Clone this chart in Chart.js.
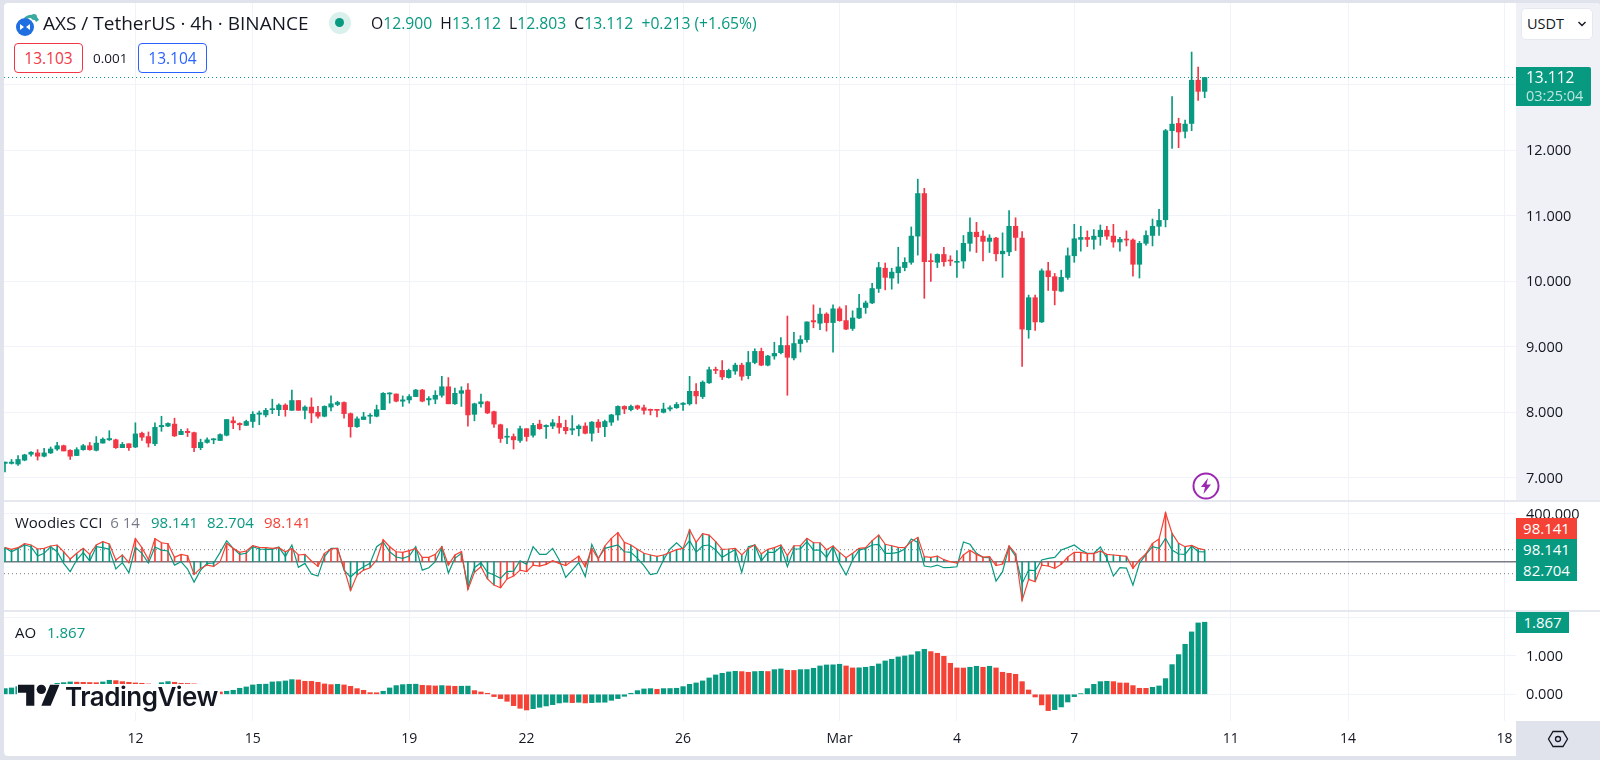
<!DOCTYPE html>
<html>
<head>
<meta charset="utf-8">
<title>AXS / TetherUS</title>
<script src="https://cdn.jsdelivr.net/npm/chart.js@4/dist/chart.umd.js"></script>
<style>
    html, body { margin: 0; padding: 0; background: #e0e3eb; width: 1600px; height: 760px; overflow: hidden; }
    body { font-family: "Open Sans", sans-serif; color: #131722; position: relative; }
    #panel { position: absolute; left: 4px; top: 3px; width: 1596px; height: 753px; background: #fff; border-radius: 4px 4px 0 4px; }
    #ejePrecio { position: absolute; left: 1516px; top: 3px; width: 84px; height: 498px; background: #f0f1f6; border-radius: 0 4px 0 0; }
    #esquina { position: absolute; left: 1516px; top: 721px; width: 84px; height: 35px; background: #e0e3eb; }
    .sep { position: absolute; left: 4px; width: 1596px; height: 2px; background: #e6e8f0; }
    canvas { position: absolute; left: 4px; }
    .txt { position: absolute; white-space: nowrap; line-height: 20px; }
    .tag { position: absolute; left: 1516px; color: #fff; font-size: 15px; line-height: 21px; height: 21px; text-align: center; }
    .up { color: #089981; }
    .dn { color: #f44336; }
    .gr { color: #787b86; }
    .box { position: absolute; top: 43px; width: 67px; height: 28px; line-height: 28px; text-align: center; font-size: 15.5px; border: 1px solid; border-radius: 4px; background: #fff; }
</style>
</head>
<body>
<div id="panel"></div>
<div id="ejePrecio"></div>
<div id="esquina"></div>
<canvas id="graficoPrecio" width="1596" height="498" style="top:3px"></canvas>
<canvas id="graficoCci" width="1596" height="109" style="top:502px"></canvas>
<canvas id="graficoAo" width="1596" height="145" style="top:612px"></canvas>
<div class="sep" style="top:500px"></div>
<div class="sep" style="top:610px"></div>

<svg style="position:absolute;left:14px;top:11px" width="26" height="26" viewBox="0 0 26 26">
    <path d="M10 7 A9 9 0 0 1 25 9 L22 11 A6 6 0 0 0 13 8 Z" fill="#3aa9a0"/>
    <circle cx="20" cy="6" r="3" fill="#3aa9a0"/>
    <circle cx="11" cy="16" r="9" fill="#1f6fe0"/>
    <path d="M6 13 L10 16 L6 19 Z M16 13 L12 16 L16 19 Z" fill="#fff"/>
</svg>
<div class="txt" style="left:43px;top:13px;font-size:19px">AXS / TetherUS · 4h · BINANCE</div>
<svg style="position:absolute;left:328px;top:11px" width="24" height="24">
    <circle cx="12" cy="12" r="11" fill="#d9f0ec"/>
    <circle cx="11.5" cy="11.5" r="4.5" fill="#089981"/>
</svg>
<div class="txt" style="left:371px;top:13px;font-size:15.7px">O<span class="up">12.900</span>&nbsp; H<span class="up">13.112</span>&nbsp; L<span class="up">12.803</span>&nbsp; C<span class="up">13.112</span>&nbsp; <span class="up">+0.213 (+1.65%)</span></div>
<div class="box" style="left:14px;color:#f23645">13.103</div>
<div class="txt" style="left:93px;top:48px;font-size:13.5px">0.001</div>
<div class="box" style="left:138px;color:#2962ff">13.104</div>
<div class="txt" style="left:1521px;top:8px;width:70px;height:30px;line-height:30px;background:#fff;border:1px solid #e6e8f0;border-radius:5px;font-size:14.5px;text-indent:5px;">USDT<svg style="position:absolute;left:55px;top:11px" width="10" height="8" fill="none" stroke="#131722" stroke-width="1.4"><path d="M1.5 2 L5 5.5 L8.5 2"/></svg></div>

<div class="tag" style="top:67px;width:65px;padding-left:10px;text-align:left;height:39px;background:#089981;border-radius:0 2px 2px 0">
    <div style="font-size:15.5px;line-height:20px;font-weight:500">13.112</div>
    <div style="font-size:14.5px;line-height:17px;color:#bfe6df">03:25:04</div>
</div>

<svg style="position:absolute;left:1192px;top:472px" width="28" height="28">
    <circle cx="14" cy="14" r="12.5" fill="#fff" stroke="#9c27b0" stroke-width="2"/>
    <path d="M16 6 L9 15 H13 L11.5 22 L19 12.5 H14.5 Z" fill="#9c27b0"/>
</svg>

<div class="txt" style="left:15px;top:512px;font-size:15px">Woodies CCI <span class="gr">&nbsp;6 14</span></div>
<div class="txt up" style="left:151px;top:512px;font-size:15px">98.141</div>
<div class="txt up" style="left:207px;top:512px;font-size:15px">82.704</div>
<div class="txt dn" style="left:264px;top:512px;font-size:15px">98.141</div>
<div class="tag" style="top:518px;width:61px;background:#f44336">98.141</div>
<div class="tag" style="top:539px;width:61px;background:#089981">98.141</div>
<div class="tag" style="top:560px;width:61px;background:#089981">82.704</div>

<div class="txt" style="left:15px;top:622px;font-size:15px">AO</div>
<div class="txt up" style="left:47px;top:622px;font-size:15px">1.867</div>
<div class="tag" style="top:612px;width:53px;background:#089981">1.867</div>

<div style="position:absolute;left:17px;top:684px;width:203px;height:28px;background:#fff"></div>
<svg style="position:absolute;left:18px;top:680px;overflow:visible" width="42" height="28" viewBox="0 0 36 24">
    <path d="M14 22H7V11H0V4h14v18zM28 22h-8l7.5-18h8L28 22z" fill="#131722"/>
    <circle cx="20" cy="8" r="4" fill="#131722"/>
</svg>
<div class="txt" style="left:65px;top:682px;font-family:Inter,sans-serif;font-weight:600;font-size:26px;line-height:30px;letter-spacing:-0.5px">TradingView</div>

<svg style="position:absolute;left:1546px;top:727px" width="24" height="24" viewBox="0 0 24 24" fill="none" stroke="#131722" stroke-width="1.3">
    <path d="M7 4.5 H17 L21.5 12 L17 19.5 H7 L2.5 12 Z"/>
    <circle cx="12" cy="12" r="2.5"/>
</svg>

<script>
const opens = [
    7.22,7.22,7.21,7.27,7.36,7.38,7.33,7.38,7.44,7.49,
    7.42,7.34,7.43,7.49,7.42,7.53,7.58,7.58,7.46,7.52,
    7.47,7.68,7.63,7.52,7.78,7.79,7.82,7.66,7.71,7.69,
    7.46,7.54,7.58,7.57,7.65,7.87,7.83,7.80,7.86,7.97,
    7.96,8.04,8.04,8.11,8.03,8.18,8.03,8.08,8.00,7.94,
    8.08,8.12,8.15,7.98,7.78,7.89,7.94,7.94,8.04,8.28,
    8.28,8.17,8.19,8.24,8.34,8.19,8.20,8.26,8.39,8.13,
    8.29,8.34,7.97,8.13,8.16,8.01,7.81,7.62,7.63,7.57,
    7.75,7.65,7.82,7.78,7.79,7.83,7.77,7.73,7.75,7.79,
    7.68,7.85,7.78,7.85,7.96,8.09,8.04,8.10,8.07,8.04,
    8.04,8.00,8.05,8.07,8.12,8.13,8.32,8.24,8.45,8.65,
    8.64,8.53,8.63,8.72,8.56,8.76,8.93,8.72,8.86,8.91,
    9.02,8.83,9.05,9.11,9.40,9.36,9.50,9.37,9.58,9.40,
    9.28,9.44,9.60,9.67,9.89,10.20,10.05,10.13,10.21,10.29,
    10.69,11.34,10.31,10.29,10.41,10.32,10.29,10.31,10.58,10.75,
    10.69,10.61,10.66,10.42,10.45,10.84,10.66,9.26,9.75,9.38,
    10.16,10.07,9.85,10.06,10.39,10.64,10.67,10.64,10.68,10.78,
    10.69,10.60,10.64,10.63,10.26,10.58,10.70,10.84,10.94,12.30,
    12.41,12.29,12.41,13.07,12.90
];
const highs = [
    7.24,7.28,7.34,7.36,7.40,7.43,7.45,7.47,7.54,7.50,
    7.43,7.46,7.51,7.54,7.63,7.61,7.72,7.59,7.54,7.52,
    7.84,7.70,7.70,7.84,7.94,7.84,7.91,7.74,7.75,7.70,
    7.59,7.61,7.60,7.67,7.89,7.93,7.84,7.88,8.01,8.02,
    8.06,8.20,8.13,8.13,8.34,8.18,8.10,8.22,8.09,8.10,
    8.25,8.17,8.16,7.99,7.93,8.00,7.98,8.11,8.30,8.30,
    8.28,8.25,8.27,8.35,8.35,8.24,8.33,8.55,8.53,8.37,
    8.39,8.44,8.14,8.28,8.17,8.02,7.82,7.75,7.67,7.79,
    7.75,7.83,7.88,7.81,7.89,7.94,7.88,7.95,7.81,7.84,
    7.86,7.89,7.88,7.97,8.10,8.10,8.11,8.11,8.11,8.05,
    8.04,8.14,8.10,8.15,8.15,8.55,8.44,8.48,8.69,8.69,
    8.79,8.66,8.75,8.75,8.93,8.97,8.98,8.87,9.07,9.14,
    9.47,9.22,9.17,9.38,9.64,9.59,9.52,9.64,9.61,9.63,
    9.55,9.80,9.70,9.97,10.29,10.28,10.20,10.52,10.36,10.83,
    11.56,11.42,10.42,10.42,10.52,10.39,10.47,10.70,10.97,10.90,
    10.77,10.71,10.67,10.74,11.08,10.97,10.76,9.79,9.79,10.19,
    10.29,10.12,10.17,10.51,10.87,10.84,10.77,10.79,10.86,10.84,
    10.87,10.67,10.77,10.65,10.61,10.77,10.95,11.10,12.32,12.82,
    12.49,12.46,13.50,13.27,13.112
];
const lows = [
    7.09,7.21,7.19,7.26,7.33,7.27,7.32,7.37,7.42,7.41,
    7.28,7.34,7.42,7.42,7.41,7.53,7.57,7.45,7.46,7.42,
    7.46,7.57,7.47,7.49,7.71,7.78,7.63,7.66,7.63,7.40,
    7.43,7.53,7.52,7.57,7.64,7.75,7.73,7.80,7.77,7.81,
    7.93,7.98,7.95,7.94,8.03,8.03,7.90,7.84,7.91,7.93,
    8.02,8.10,7.91,7.62,7.77,7.89,7.83,7.93,8.04,8.14,
    8.16,8.09,8.14,8.24,8.16,8.11,8.13,8.23,8.13,8.12,
    8.09,7.79,7.87,8.08,7.98,7.77,7.54,7.52,7.44,7.54,
    7.56,7.62,7.74,7.60,7.75,7.68,7.67,7.66,7.64,7.67,
    7.56,7.69,7.63,7.80,7.88,7.98,8.02,8.04,7.97,7.96,
    7.93,7.99,8.02,8.06,8.03,8.11,8.13,8.21,8.44,8.59,
    8.50,8.52,8.58,8.49,8.51,8.74,8.71,8.71,8.81,8.89,
    8.26,8.80,8.92,9.07,9.29,9.26,9.24,8.92,9.39,9.26,
    9.25,9.43,9.51,9.66,9.83,9.87,9.88,9.97,10.16,10.26,
    10.40,9.74,10.00,10.21,10.23,10.24,10.06,10.20,10.46,10.44,
    10.31,10.44,10.31,10.06,10.39,10.47,8.70,9.13,9.25,9.37,
    9.86,9.64,9.84,10.03,10.29,10.46,10.53,10.49,10.55,10.64,
    10.52,10.46,10.54,10.08,10.05,10.55,10.54,10.70,10.83,12.03,
    12.04,12.19,12.30,12.76,12.803
];
const closes = [
    7.24,7.24,7.28,7.35,7.39,7.33,7.38,7.44,7.49,7.41,
    7.33,7.43,7.49,7.43,7.53,7.59,7.60,7.46,7.51,7.46,
    7.67,7.62,7.53,7.77,7.80,7.83,7.64,7.71,7.69,7.46,
    7.54,7.58,7.59,7.66,7.89,7.84,7.81,7.86,7.97,7.99,
    8.03,8.05,8.11,8.04,8.18,8.03,8.08,7.99,7.94,8.09,
    8.13,8.15,7.98,7.78,7.90,7.93,7.95,8.04,8.29,8.29,
    8.17,8.19,8.24,8.34,8.17,8.21,8.26,8.39,8.13,8.29,
    8.33,7.96,8.13,8.16,7.99,7.82,7.60,7.63,7.58,7.75,
    7.63,7.80,7.75,7.80,7.84,7.77,7.72,7.75,7.79,7.68,
    7.85,7.77,7.86,7.96,8.09,8.05,8.09,8.06,8.03,8.03,
    8.03,8.05,8.07,8.12,8.14,8.32,8.25,8.46,8.65,8.64,
    8.54,8.64,8.72,8.55,8.76,8.93,8.72,8.86,8.90,9.02,
    8.84,9.05,9.11,9.38,9.38,9.50,9.37,9.58,9.40,9.27,
    9.44,9.59,9.67,9.89,10.21,10.06,10.14,10.22,10.29,10.69,
    11.34,10.30,10.30,10.41,10.30,10.31,10.30,10.58,10.75,10.68,
    10.61,10.66,10.42,10.46,10.84,10.67,9.27,9.75,9.38,10.16,
    10.07,9.86,10.06,10.39,10.65,10.67,10.64,10.69,10.78,10.69,
    10.60,10.64,10.63,10.26,10.58,10.70,10.84,10.93,12.30,12.40,
    12.28,12.40,13.07,12.90,13.112
];

const cciValues = [
    117,103,117,150,139,106,111,131,139,83,
    22,70,111,61,139,167,147,14,56,-8,
    192,117,19,192,158,150,36,61,50,-106,
    -56,-28,-39,0,153,111,78,89,133,120,
    117,111,117,83,111,56,61,6,-39,70,
    106,111,-56,-239,-111,-70,-50,14,183,125,
    83,78,92,111,36,36,61,125,-28,56,
    83,-231,-89,-42,-144,-195,-217,-144,-120,-70,
    -83,-28,-36,-22,8,-14,-33,8,47,-42,
    111,22,131,195,242,161,139,103,70,56,
    44,56,78,100,111,267,161,234,222,167,
    103,106,111,56,111,139,64,103,117,139,
    50,133,133,195,158,158,100,131,78,33,
    70,111,117,175,222,145,133,120,117,167,
    203,42,36,47,17,0,-11,56,95,61,
    39,42,-33,-19,131,67,-323,-147,-167,-28,
    -36,-56,-22,39,78,78,67,67,89,61,
    56,50,44,-56,14,67,153,189,408,236,
    153,125,136,111,98.141
];
const turboValues = [
    117,83,111,139,125,47,70,125,83,-14,
    -83,14,78,6,125,117,103,-61,-8,-92,
    120,70,-11,122,97,89,-28,0,-61,-170,
    -70,-14,-11,78,175,111,61,70,125,106,
    103,103,122,42,139,-47,-14,-103,-120,42,
    111,111,-70,-128,-78,-42,-14,125,164,83,
    39,28,47,125,-70,-50,0,120,-95,28,
    70,-208,-50,-8,-89,-111,-139,-83,-78,8,
    -22,125,61,61,111,14,-131,-70,-8,-125,
    145,28,111,125,139,83,78,28,-33,-108,
    -97,14,106,158,106,175,78,133,139,97,
    36,70,100,-89,125,139,6,78,78,125,
    -42,106,106,167,97,97,36,125,-14,-111,
    14,97,111,139,145,70,70,78,106,189,
    161,-36,-44,-28,-50,-47,-42,164,145,70,
    36,33,-161,-83,125,47,-181,-70,-75,14,
    28,36,97,117,139,97,70,70,122,28,
    -120,-50,-53,-195,-14,61,125,111,195,97,
    64,61,131,83,82.704
];
// tramos del histograma CCI que van en rojo (primer y ultimo indice)
const cciRedRuns = [[20,28],[34,37],[44,45],[47,52],[58,62],[64,66],[68,70],[76,95],[147,155],[159,167],[173,178]];

const aoValues = [
    .147,.164,.199,.216,.233,.236,.25,.259,.285,.302,
    .32,.315,.31,.305,.30,.32,.363,.354,.328,.311,
    .294,.285,.268,.25,.302,.328,.311,.285,.28,.27,
    .216,.13,.086,.06,.078,.104,.156,.19,.242,.259,
    .262,.32,.328,.346,.38,.372,.337,.335,.311,.268,
    .25,.259,.242,.207,.147,.104,.043,.040,.078,.164,
    .225,.25,.259,.262,.233,.225,.216,.225,.216,.207,
    .209,.212,.095,.06,.026,-.06,-.112,-.181,-.294,-.363,
    -.406,-.372,-.337,-.302,-.268,-.225,-.207,-.216,-.207,-.225,
    -.216,-.207,-.205,-.156,-.112,-.052,.026,.095,.138,.147,
    .13,.147,.149,.156,.199,.259,.294,.346,.423,.501,
    .544,.579,.596,.588,.57,.588,.596,.590,.639,.657,
    .622,.618,.639,.641,.674,.734,.76,.763,.778,.734,
    .683,.686,.70,.726,.786,.864,.907,.968,.994,1.02,
    1.106,1.166,1.106,1.063,.985,.804,.683,.680,.70,.726,
    .70,.726,.683,.57,.544,.518,.328,.112,-.069,-.276,
    -.423,-.397,-.328,-.199,-.06,.017,.147,.259,.328,.337,
    .328,.294,.292,.225,.156,.154,.181,.216,.406,.769,
    1.028,1.296,1.616,1.849,1.867
];

const priceTicks = [7, 8, 9, 10, 11, 12, 13];
const cciTicks = [400];
const aoTicks = [0, 1, 2];
const timeTickBars = [20, 38, 62, 80, 104, 128, 146, 164, 188, 206, 230];
const timeTickLabels = ['12', '15', '19', '22', '26', 'Mar', '4', '7', '11', '14', '18'];
const lastPrice = 13.112;

const VERDE = '#089981';
const ROJO = '#f23645';
const ROJO_IND = '#f44336';
const REJILLA = '#f0f3fa';
const GRIS = '#787b86';
const FUENTE = '"Open Sans", sans-serif';

// rango de barras visible, el mismo en los tres paneles
const xMin = -0.153;
const xMax = 231.75;
const indices = opens.map((_, i) => i);
const linea = (y) => [{ x: xMin, y }, { x: xMax, y }];

const opcionesBase = (yMin, yMax, yTicks, anchoX) => ({
    responsive: false,
    animation: false,
    events: [],
    layout: { padding: 0, autoPadding: false },
    plugins: { legend: { display: false }, tooltip: { enabled: false } },
    scales: {
        x: {
            type: 'linear',
            min: xMin,
            max: xMax,
            offset: false,
            border: { display: false },
            grid: { color: REJILLA, offset: false, drawTicks: false },
            afterBuildTicks: (eje) => { eje.ticks = timeTickBars.map(value => ({ value })); },
            afterFit: (eje) => {
                eje.height = anchoX;
                eje.paddingLeft = 0;
                eje.paddingRight = 0;
            },
            ticks: {
                display: anchoX > 0,
                autoSkip: false,
                maxRotation: 0,
                padding: 10,
                color: '#131722',
                font: { family: FUENTE, size: 14 },
                callback: (valor) => timeTickLabels[timeTickBars.indexOf(valor)]
            }
        },
        y: {
            position: 'right',
            min: yMin,
            max: yMax,
            border: { display: false },
            grid: { color: REJILLA, drawTicks: false },
            afterBuildTicks: (eje) => { eje.ticks = yTicks.map(value => ({ value })); },
            afterFit: (eje) => {
                eje.width = 84;
                // sin esto el layout encoge el area por media etiqueta arriba y abajo
                eje.paddingTop = 0;
                eje.paddingBottom = 0;
            },
            ticks: {
                autoSkip: false,
                padding: 10,
                labelOffset: 1,
                color: '#131722',
                font: { family: FUENTE, size: 14.5 },
                callback: (valor) => valor.toFixed(3)
            }
        }
    }
});

new Chart(document.getElementById('graficoPrecio'), {
    type: 'bar',
    data: {
        datasets: [
            {
                label: 'Cuerpo',
                order: 1,
                grouped: false,
                barThickness: 4.6,
                minBarLength: 1,
                data: indices.map(i => ({ x: i, y: [opens[i], closes[i]] })),
                backgroundColor: indices.map(i => closes[i] >= opens[i] ? VERDE : ROJO)
            },
            {
                label: 'Mecha',
                order: 2,
                grouped: false,
                barThickness: 1,
                data: indices.map(i => ({ x: i, y: [lows[i], highs[i]] })),
                backgroundColor: indices.map(i => closes[i] >= opens[i] ? VERDE : ROJO)
            },
            {
                type: 'line',
                label: 'Ultimo',
                order: 3,
                data: linea(lastPrice),
                borderColor: VERDE,
                borderWidth: 1,
                borderDash: [1, 3],
                pointRadius: 0
            }
        ]
    },
    options: opcionesBase(6.646, 14.249, priceTicks, 0)
});

const esRojoCci = (i) => cciRedRuns.some(([a, b]) => i >= a && i <= b);
const lineaCci = (label, y, dash) => ({
    type: 'line', label, order: 5, data: linea(y),
    borderColor: GRIS, borderWidth: dash ? 1 : 1.5, borderDash: dash ? [1, 3] : [], pointRadius: 0
});

new Chart(document.getElementById('graficoCci'), {
    type: 'bar',
    data: {
        datasets: [
            {
                type: 'line',
                label: 'CCI',
                order: 1,
                data: indices.map(i => ({ x: i, y: cciValues[i] })),
                borderColor: ROJO_IND,
                borderWidth: 1.2,
                pointRadius: 0
            },
            {
                type: 'line',
                label: 'Turbo',
                order: 2,
                data: indices.map(i => ({ x: i, y: turboValues[i] })),
                borderColor: VERDE,
                borderWidth: 1.2,
                pointRadius: 0
            },
            {
                label: 'Histograma',
                order: 3,
                grouped: false,
                barThickness: 1,
                data: indices.map(i => ({ x: i, y: cciValues[i] })),
                backgroundColor: indices.map(i => esRojoCci(i) ? ROJO_IND : VERDE)
            },
            lineaCci('Cero', 0, false),
            lineaCci('+100', 100, true),
            lineaCci('-100', -100, true)
        ]
    },
    options: opcionesBase(-410.8, 497.5, cciTicks, 0)
});

new Chart(document.getElementById('graficoAo'), {
    type: 'bar',
    data: {
        datasets: [{
            label: 'AO',
            grouped: false,
            barThickness: 4.6,
            data: indices.map(i => ({ x: i, y: aoValues[i] })),
            backgroundColor: indices.map(i => i === 0 || aoValues[i] > aoValues[i - 1] ? VERDE : ROJO_IND)
        }]
    },
    options: opcionesBase(-0.692, 2.132, aoTicks, 36)
});
</script>
</body>
</html>
